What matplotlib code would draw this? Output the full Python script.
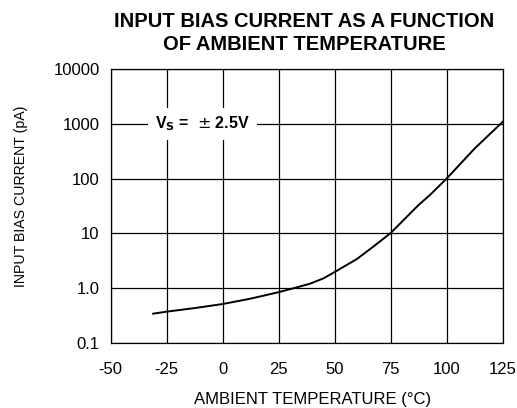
import matplotlib
matplotlib.use("Agg")
import matplotlib.pyplot as plt
import numpy as np

plt.rcParams['font.family'] = ['Liberation Sans', 'DejaVu Sans']

temps = [-31, -25, -12.5, 0, 12.5, 25, 32, 39, 45, 50, 60, 67, 75, 87.5, 92.5, 100, 112.5, 125]
ibias = [0.34, 0.37, 0.43, 0.51, 0.64, 0.84, 1.0, 1.2, 1.5, 1.96, 3.4, 5.6, 10.1, 33, 50, 100, 355, 1090]
xticks = [-50, -25, 0, 25, 50, 75, 100, 125]
yticks = [0.1, 1, 10, 100, 1000, 10000]
ytick_labels = ["0.1", "1.0", "10", "100", "1000", "10000"]

fig = plt.figure(figsize=(5.17, 4.08), dpi=100)
ax = fig.add_axes([0.214, 0.160, 0.758, 0.670])
ax.set_yscale('log')
ax.set_xlim(-50, 125)
ax.set_ylim(0.1, 10000)
ax.set_xticks(xticks)
ax.set_xticklabels([str(t) for t in xticks])
ax.set_yticks(yticks)
ax.set_yticklabels(ytick_labels)
ax.yaxis.set_minor_locator(matplotlib.ticker.NullLocator())
ax.tick_params(length=0, labelsize=12, colors='black')
ax.tick_params(axis='x', pad=14)
ax.tick_params(axis='y', pad=8)
ax.grid(True, color='black', linewidth=0.9)
for s in ax.spines.values():
    s.set_linewidth(0.9)
ax.plot(temps, ibias, color='black', linewidth=1.4, solid_joinstyle='round')

ax.text(-30.2, 1000, r'V$_\mathbf{S}$ =  $\pm$ 2.5V', fontsize=11.5, fontweight='bold',
        va='center', ha='left',
        bbox=dict(facecolor='white', edgecolor='none', pad=5))

ax.set_xlabel('AMBIENT TEMPERATURE (°C)', fontsize=12)
ax.xaxis.set_label_coords(0.514, -0.18)
ax.set_ylabel('INPUT BIAS CURRENT (pA)', fontsize=10.2)
ax.yaxis.set_label_coords(-0.211, 0.537)
fig.text(0.588, 1 - 27 / 408, 'INPUT BIAS CURRENT AS A FUNCTION',
         ha='center', va='baseline', fontsize=14.5, fontweight='bold')
fig.text(0.588, 1 - 50 / 408, 'OF AMBIENT TEMPERATURE',
         ha='center', va='baseline', fontsize=14.5, fontweight='bold')
fig.savefig('out.png', dpi=100)
